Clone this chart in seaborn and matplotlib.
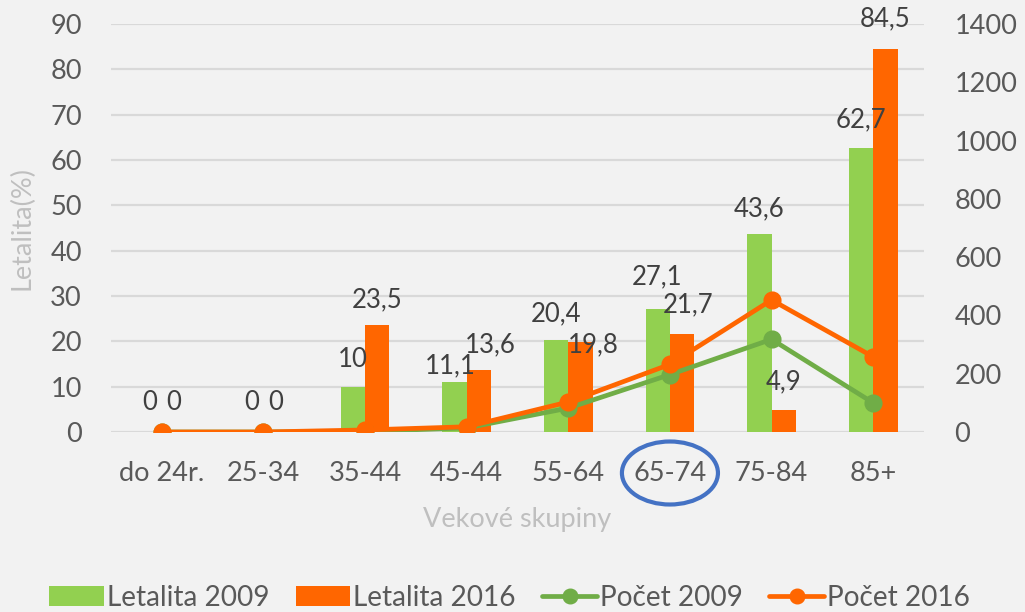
import matplotlib
matplotlib.use("Agg")
import matplotlib.pyplot as plt
import matplotlib.transforms as mtransforms
from matplotlib.patches import Ellipse, Patch
from matplotlib.lines import Line2D
import seaborn as sns
import pandas as pd

categories = ["do 24r.", "25-34", "35-44", "45-44", "55-64", "65-74", "75-84", "85+"]
letalita_2009 = [0, 0, 10, 11.1, 20.4, 27.1, 43.6, 62.7]
letalita_2016 = [0, 0, 23.5, 13.6, 19.8, 21.7, 4.9, 84.5]
pocet_2009 = [0, 0, 2, 14, 82, 197, 318, 100]
pocet_2016 = [0, 0, 7, 18, 103, 232, 453, 258]
left_ticks = [0, 10, 20, 30, 40, 50, 60, 70, 80, 90]
right_ticks = [0, 200, 400, 600, 800, 1000, 1200, 1400]

GREEN = "#92D050"
ORANGE = "#FF6600"
GREEN_LINE = "#70AD47"
BG = "#F2F2F2"
TICK_C = "#595959"
TITLE_C = "#BFBFBF"
LABEL_C = "#404040"

sns.set_theme(style="white")
plt.rcParams["font.family"] = ["Lato", "DejaVu Sans"]

bars = pd.DataFrame({
    "cat": categories * 2,
    "val": letalita_2009 + letalita_2016,
    "series": ["Letalita 2009"] * 8 + ["Letalita 2016"] * 8,
})
lines = pd.DataFrame({
    "cat": categories * 2,
    "val": pocet_2009 + pocet_2016,
    "series": ["Počet 2009"] * 8 + ["Počet 2016"] * 8,
})

fig = plt.figure(figsize=(10.25, 6.12), dpi=100, facecolor=BG)
ax = fig.add_axes([111 / 1025, 1 - 432 / 612, (924 - 111) / 1025, (432 - 24) / 612])
ax.set_facecolor(BG)

sns.barplot(data=bars, x="cat", y="val", hue="series", order=categories,
            palette=[GREEN, ORANGE], width=0.48, ax=ax, legend=False,
            saturation=1, linewidth=0)
ax.set_ylim(0, 90)
ax.set_yticks(left_ticks)
ax.set_yticklabels([str(t) for t in left_ticks])
ax.yaxis.grid(True, color="#D9D9D9", linewidth=1.6)
ax.set_axisbelow(True)
for s in ax.spines.values():
    s.set_visible(False)
ax.tick_params(axis="both", length=0, labelsize=19.5, colors=TICK_C)
ax.tick_params(axis="y", pad=21)
ax.tick_params(axis="x", pad=21)
ax.set_xlabel("Vekové skupiny", fontsize=19.5, color=TITLE_C, labelpad=15)
ax.set_ylabel("Letalita(%)", fontsize=19.5, color=TITLE_C, labelpad=11)

# data labels for bars: (dx, dy) offsets in pixels
offs_2009 = [(0, 29), (0, 29), (0, 27), (-4, 16), (0, 26), (-1, 32), (0, 26), (0, 28)]
offs_2016 = [(0, 29), (0, 29), (0, 26), (11, 26), (13, -3), (6, 29), (0, 28), (0, 30)]

def fmt(v):
    return ("%g" % v).replace(".", ",")

for cont, vals, offs in [(ax.containers[0], letalita_2009, offs_2009),
                         (ax.containers[1], letalita_2016, offs_2016)]:
    for p, v, (dx, dy) in zip(cont.patches, vals, offs):
        ax.annotate(fmt(v), (p.get_x() + p.get_width() / 2, p.get_height()),
                    xytext=(dx, dy), textcoords="offset pixels",
                    ha="center", va="center", fontsize=18.5, color=LABEL_C,
                    annotation_clip=False)

ax2 = ax.twinx()
sns.pointplot(data=lines, x="cat", y="val", hue="series", order=categories,
              palette=[GREEN_LINE, ORANGE], markers="o", ax=ax2,
              markersize=10.5, linewidth=3.4, legend=False)
ax2.set_ylim(0, 1400)
ax2.set_yticks(right_ticks)
ax2.set_yticklabels([str(t) for t in right_ticks])
for s in ax2.spines.values():
    s.set_visible(False)
ax2.tick_params(axis="y", length=0, labelsize=19.5, colors=TICK_C, pad=22)
ax2.set_ylabel("")
ax2.set_xlabel("")
ax.set_xlim(-0.5, len(categories) - 0.5)

# highlight ellipse around 65-74
trans = mtransforms.blended_transform_factory(ax.transData, ax.transAxes)
ell = Ellipse((categories.index("65-74"), -41 / 408), width=96 / 101.6, height=63 / 408,
              transform=trans, fill=False, edgecolor="#4472C4", linewidth=3,
              clip_on=False)
ax.add_patch(ell)

handles = [
    Patch(facecolor=GREEN, edgecolor="none", label="Letalita 2009"),
    Patch(facecolor=ORANGE, edgecolor="none", label="Letalita 2016"),
    Line2D([], [], color=GREEN_LINE, lw=3.4, marker="o", markersize=10.5, label="Počet 2009"),
    Line2D([], [], color=ORANGE, lw=3.4, marker="o", markersize=10.5, label="Počet 2016"),
]
leg = fig.legend(handles=handles, loc="center", bbox_to_anchor=(0.497, 0.023), ncol=4,
                 frameon=False, fontsize=20.2, handlelength=1.95, handleheight=0.72,
                 handletextpad=0.1, columnspacing=0.95, labelcolor=TICK_C)

fig.savefig("out.png", dpi=100, facecolor=BG)
